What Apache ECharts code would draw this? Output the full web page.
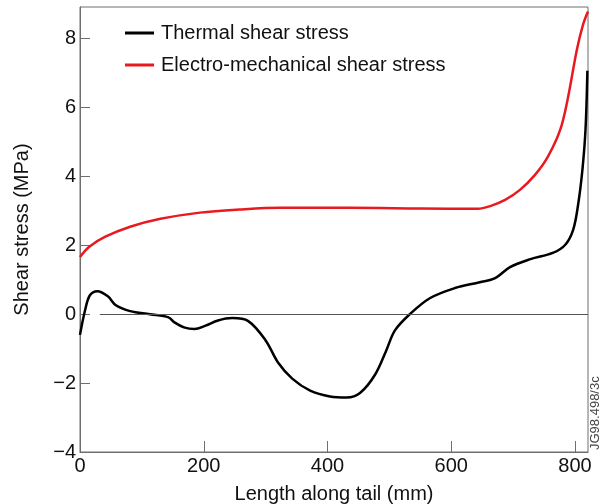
<!DOCTYPE html>
<html lang="en">
<head>
    <meta charset="UTF-8">
    <title>Shear stress along tail</title>
    <style>
        html, body { margin: 0; padding: 0; background: #fff; }
        #chart { width: 606px; height: 504px; }
    </style>
</head>
<body>
    <div id="chart"></div>
    <script src="https://cdn.jsdelivr.net/npm/echarts@6/dist/echarts.min.js"></script>
    <script>
        // length along tail (mm) and stress (MPa)
        var thermalX = [0, 8, 16, 28, 45, 58, 81, 113, 143, 152, 168, 185, 203, 223, 246, 272, 300, 320, 343, 372, 404, 431, 453, 477, 495, 509, 533, 566, 606, 646, 671, 695, 728, 764, 784, 797, 805, 812, 817, 820];
        var thermalY = [-0.6, 0.1, 0.55, 0.67, 0.52, 0.26, 0.09, 0.0, -0.09, -0.23, -0.38, -0.43, -0.33, -0.18, -0.11, -0.2, -0.76, -1.4, -1.87, -2.22, -2.39, -2.42, -2.28, -1.75, -1.05, -0.47, 0.0, 0.47, 0.76, 0.93, 1.05, 1.37, 1.6, 1.78, 2.01, 2.45, 3.18, 4.2, 5.37, 7.07];
        var emX = [0, 15, 41, 81, 130, 194, 258, 323, 437, 550, 643, 663, 687, 711, 735, 756, 776, 788, 803, 813, 821];
        var emY = [1.66, 1.96, 2.25, 2.54, 2.77, 2.95, 3.04, 3.09, 3.09, 3.07, 3.06, 3.14, 3.32, 3.61, 4.04, 4.57, 5.35, 6.23, 7.68, 8.41, 8.79];
        var yTicks = [-4, -2, 0, 2, 4, 6, 8];
        var xTicks = [0, 200, 400, 600, 800];
        var seriesNames = ['Thermal shear stress', 'Electro-mechanical shear stress'];

        function pairs(xs, ys) {
            return xs.map(function (x, i) { return [x, ys[i]]; });
        }
        function minus(v) {
            return String(v).replace('-', '\u2212');
        }

        var font = 'Liberation Sans, Arial, Helvetica, sans-serif';
        var frame = '#6e6e6e';

        var myChart = echarts.init(document.getElementById('chart'));
        var option = {
            animation: false,
            textStyle: { fontFamily: font },
            grid: {
                left: 80, right: 18, top: 7, bottom: 52,
                outerBoundsMode: 'none',
                show: true, borderColor: frame, borderWidth: 1
            },
            legend: {
                data: seriesNames,
                orient: 'vertical',
                left: 120, top: 18,
                icon: 'rect',
                itemWidth: 29, itemHeight: 3,
                itemGap: 12,
                textStyle: { fontSize: 20, color: '#111', fontFamily: font, padding: [0, 0, 0, 2] }
            },
            xAxis: {
                type: 'value',
                min: 0, max: 821, interval: 200,
                name: 'Length along tail (mm)',
                nameLocation: 'middle', nameGap: 32,
                nameTextStyle: { fontSize: 20, color: '#111' },
                axisLine: { onZero: false, lineStyle: { color: frame } },
                axisTick: { inside: true, length: 11, lineStyle: { color: frame }, customValues: xTicks },
                axisLabel: { fontSize: 20, color: '#111', margin: 4, customValues: xTicks },
                splitLine: { show: false }
            },
            yAxis: {
                type: 'value',
                min: -4, max: 8.92, interval: 2,
                name: 'Shear stress (MPa)',
                nameLocation: 'middle', nameGap: 48,
                nameTextStyle: { fontSize: 20, color: '#111' },
                axisLine: { show: true, onZero: false, lineStyle: { color: frame } },
                axisTick: { inside: true, length: 10, lineStyle: { color: frame }, customValues: yTicks },
                axisLabel: { fontSize: 20, color: '#111', margin: 4, customValues: yTicks, formatter: minus },
                splitLine: { show: false }
            },
            series: [
                {
                    name: seriesNames[0],
                    type: 'line',
                    data: pairs(thermalX, thermalY),
                    smooth: 0.35,
                    symbol: 'none',
                    lineStyle: { color: '#000', width: 2.5 },
                    itemStyle: { color: '#000' },
                    z: 3,
                    markLine: {
                        silent: true,
                        symbol: 'none',
                        label: { show: false },
                        lineStyle: { color: '#555', width: 1, type: 'solid' },
                        data: [[{ coord: [32, 0] }, { coord: [821, 0] }]]
                    }
                },
                {
                    name: seriesNames[1],
                    type: 'line',
                    data: pairs(emX, emY),
                    smooth: 0.35,
                    symbol: 'none',
                    lineStyle: { color: '#e8191f', width: 2.5 },
                    itemStyle: { color: '#e8191f' },
                    z: 2
                }
            ],
            graphic: [
                {
                    type: 'text',
                    x: 589, y: 450,
                    rotation: Math.PI / 2,
                    style: {
                        text: 'JG98.498/3c',
                        font: '13px ' + font,
                        fill: '#444',
                        textAlign: 'left',
                        textVerticalAlign: 'top'
                    }
                }
            ]
        };
        myChart.setOption(option);
    </script>
</body>
</html>
